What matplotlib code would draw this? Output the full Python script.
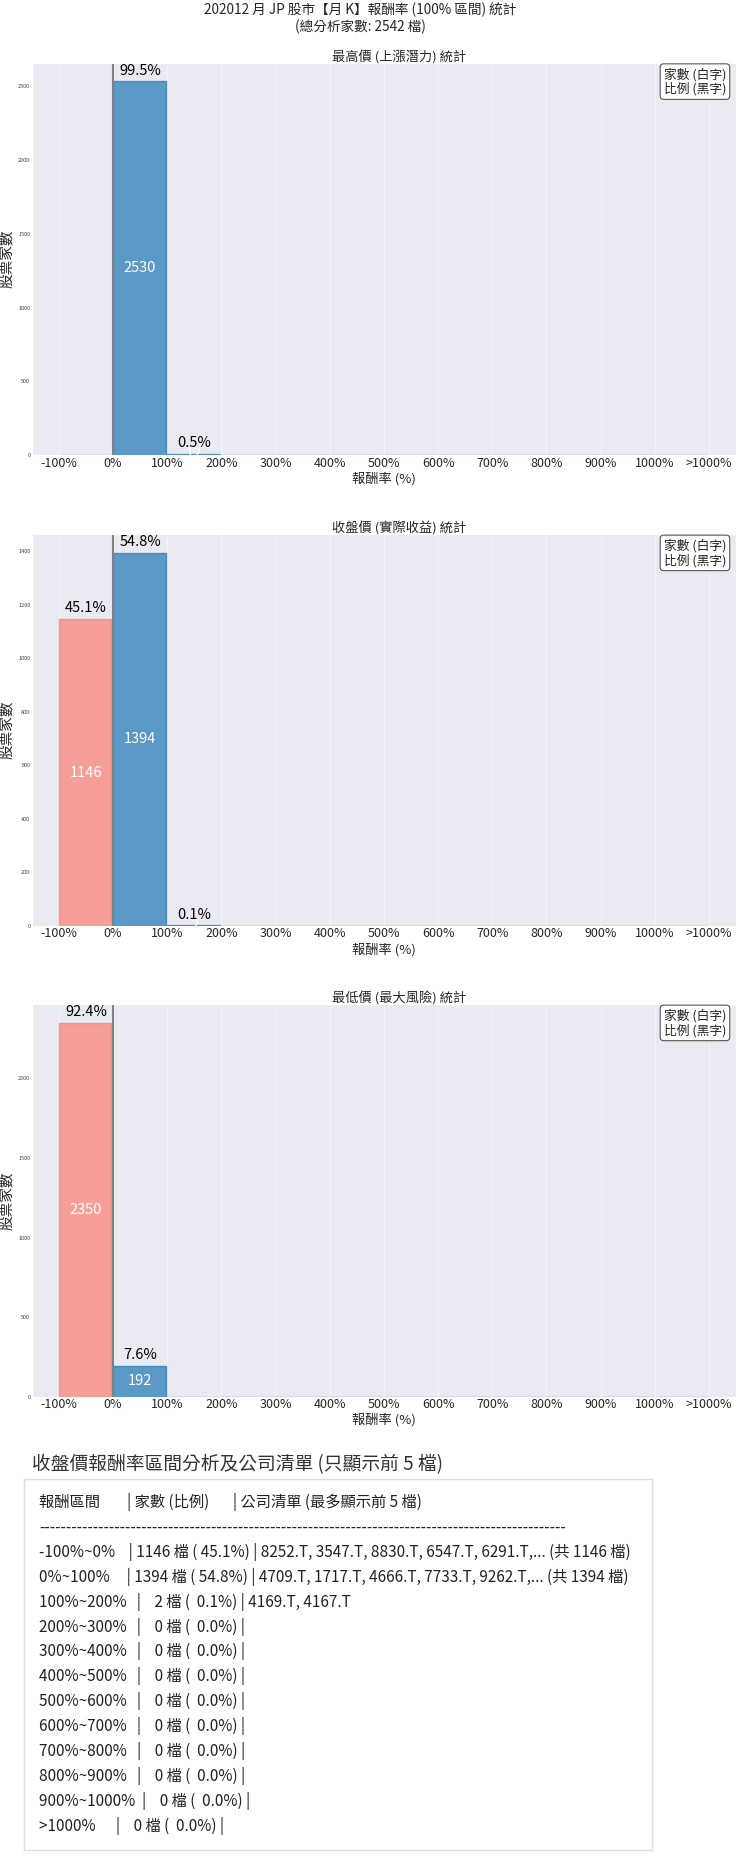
import matplotlib
matplotlib.use("Agg")
import matplotlib.pyplot as plt
import numpy as np
import seaborn as sns

# Data
tick_labels = ["-100%", "0%", "100%", "200%", "300%", "400%", "500%", "600%",
               "700%", "800%", "900%", "1000%", ">1000%"]
bin_labels = ["-100%~0%", "0%~100%", "100%~200%", "200%~300%", "300%~400%",
              "400%~500%", "500%~600%", "600%~700%", "700%~800%", "800%~900%",
              "900%~1000%", ">1000%"]
high_counts = [0, 2530, 12, 0, 0, 0, 0, 0, 0, 0, 0, 0]
close_counts = [1146, 1394, 2, 0, 0, 0, 0, 0, 0, 0, 0, 0]
low_counts = [2350, 192, 0, 0, 0, 0, 0, 0, 0, 0, 0, 0]
total_stocks = 2542
close_companies = [
    ["8252.T", "3547.T", "8830.T", "6547.T", "6291.T"],
    ["4709.T", "1717.T", "4666.T", "7733.T", "9262.T"],
    ["4169.T", "4167.T"],
    [], [], [], [], [], [], [], [], [],
]
panel_titles = ["最高價 (上漲潛力) 統計", "收盤價 (實際收益) 統計", "最低價 (最大風險) 統計"]

sns.set_style("darkgrid")
plt.rcParams["font.family"] = ["Noto Sans CJK TC", "DejaVu Sans"]

W, H = 740, 1871
fig = plt.figure(figsize=(W / 100, H / 100), dpi=100)


def px_axes(left, top, right, bottom):
    return fig.add_axes([left / W, 1 - bottom / H, (right - left) / W, (bottom - top) / H])


fig.text(360 / W, 1 - 3 / H, "202012 月 JP 股市【月 K】報酬率 (100% 區間) 統計\n(總分析家數: 2542 檔)",
         ha="center", va="top", fontsize=9.8, linespacing=1.22)

panel_boxes = [(31.7, 62.7, 736, 455.3), (31.7, 534, 736, 926), (31.7, 1004, 736, 1396.7)]
all_counts = [high_counts, close_counts, low_counts]
x = np.arange(len(bin_labels))

for box, counts, title in zip(panel_boxes, all_counts, panel_titles):
    ax = px_axes(*box)
    colors = ["salmon" if lab.startswith("-") else "tab:blue" for lab in bin_labels]
    ax.bar(x, counts, width=0.97, align="edge", color=colors, edgecolor=colors,
           alpha=0.7, linewidth=1)
    ax.axvline(1, color="gray", linewidth=1.5)
    ymax = max(counts)
    for xi, c in zip(x, counts):
        if c > 0:
            ax.text(xi + 0.5, c / 2, str(c), ha="center", va="center", color="white", fontsize=10.5)
            ax.text(xi + 0.5, c + ymax * 0.01, f"{c / total_stocks * 100:.1f}%",
                    ha="center", va="bottom", color="black", fontsize=10.5)
    ax.set_xlim(-0.5, 12.5)
    ax.set_ylim(0, ymax * 1.05)
    ax.set_xticks(np.arange(len(tick_labels)))
    ax.set_xticklabels(tick_labels, fontsize=9)
    ax.tick_params(axis="x", pad=1, length=0)
    ax.tick_params(axis="y", labelsize=4, pad=1, length=0, labelcolor="#444444")
    ax.grid(axis="y", visible=False)
    ax.grid(axis="x", color="white", linewidth=0.8, alpha=0.45)
    ax.set_title(title, fontsize=9.5, pad=1, x=0.522)
    ax.set_xlabel("報酬率 (%)", fontsize=9.5, labelpad=1.5)
    ax.set_ylabel("股票家數", fontsize=10.5, labelpad=2)
    ax.text(0.986, 0.988, "家數 (白字)\n比例 (黑字)", transform=ax.transAxes, ha="right", va="top",
            fontsize=9.2, linespacing=1.12,
            bbox=dict(boxstyle="round,pad=0.28", facecolor="white", edgecolor="#555555", linewidth=0.8))

# Table section
fig.text(32.3 / W, 1 - 1465 / H, "收盤價報酬率區間分析及公司清單 (只顯示前 5 檔)",
         ha="left", va="center", fontsize=13.5, color="#333333")

tax = px_axes(23.5, 1479.3, 652, 1850)
tax.set_facecolor("white")
tax.set_xticks([])
tax.set_yticks([])
tax.grid(False)
for sp in tax.spines.values():
    sp.set_visible(True)
    sp.set_color("#dddddd")
    sp.set_linewidth(1)

lines = [f"{'報酬區間':<12}| {'家數 (比例)':<14}| 公司清單 (最多顯示前 5 檔)", "-" * 98]
for lab, c, comps in zip(bin_labels, close_counts, close_companies):
    text = ", ".join(comps)
    if c > len(comps):
        text += f",... (共 {c} 檔)"
    lines.append(f"{lab:<12}| {c:4d} 檔 ({c / total_stocks * 100:5.1f}%) | {text}")

box_top, box_bottom = 1479.3, 1850
for i, line in enumerate(lines):
    ypx = 1502 + 24.9 * i
    tax.text((39 - 23.5) / (652 - 23.5), (box_bottom - ypx) / (box_bottom - box_top), line,
             transform=tax.transAxes, ha="left", va="center", fontsize=11, color="#222222")

fig.savefig("out.png", dpi=100)
